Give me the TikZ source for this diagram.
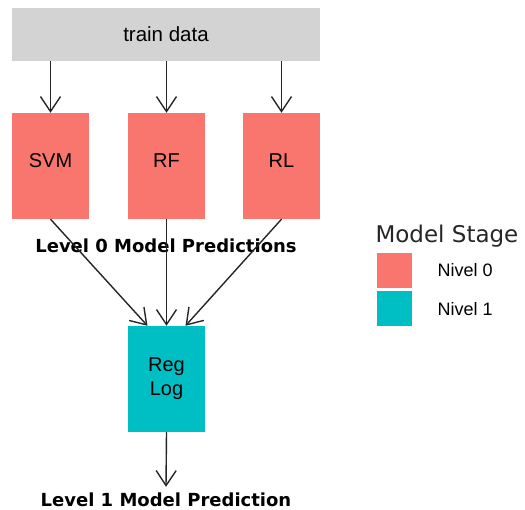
\documentclass[tikz,border=0pt]{standalone}
\usepackage{fontspec}
\setmainfont{Liberation Sans}
\newfontfamily\dejavu{DejaVu Sans}
\usetikzlibrary{positioning,arrows.meta}
\definecolor{nivelcero}{HTML}{F8766D}
\definecolor{niveluno}{HTML}{00BFC4}
\definecolor{datos}{HTML}{D3D3D3}

\begin{document}
\begin{tikzpicture}[x=1pt,y=-1pt]
\tikzstyle{modelo}=[minimum width=77pt,minimum height=106pt,inner sep=0pt,font=\fontsize{20}{24}\selectfont]
\tikzstyle{nivel}=[font=\dejavu\bfseries\fontsize{18}{20}\selectfont,inner sep=1pt]
\tikzstyle{flecha}=[line width=1.4pt,draw=black!85,-{Straight Barb[length=15pt,width=20pt]}]
\tikzstyle{muestra}=[minimum size=35pt,inner sep=0pt]

\useasboundingbox (0,0) rectangle (525,510);

   \path (166,34.5) node[fill=datos,minimum width=308pt,minimum height=53pt,font=\fontsize{20.5}{24}\selectfont] (TD) {train data}

    (50.5,166)  node[modelo,fill=nivelcero,text depth=10pt] (SVM) {SVM}
    (166.5,166) node[modelo,fill=nivelcero,text depth=10pt] (RF) {RF}
    (281.5,166) node[modelo,fill=nivelcero,text depth=10pt] (RL) {RL}

    (166,246) node[nivel] (L0) {Level 0 Model Predictions}

    (166.5,379) node[modelo,fill=niveluno,align=center] (RegLog) {Reg\\Log}

    (166,500) node[nivel] (L1) {Level 1 Model Prediction};

    % leyenda
    \node[anchor=west,font=\dejavu\fontsize{23}{26}\selectfont,text=black!85] (MS) at (372,236) {Model Stage};
    \node[muestra,fill=nivelcero] (M0) at (394.5,270.5) {};
    \node[muestra,fill=niveluno] (M1) at (394.5,309) {};
    \node[right = 22pt of M0,font=\fontsize{18}{20}\selectfont]{Nivel 0};
    \node[right = 22pt of M1,font=\fontsize{18}{20}\selectfont]{Nivel 1};

    \draw[flecha] (TD.south -| SVM) -- (SVM.north);
    \draw[flecha] (TD.south -| RF) -- (RF.north);
    \draw[flecha] (TD.south -| RL) -- (RL.north);

    \draw[flecha] (SVM.south) -- ([xshift=-19pt]RegLog.north);
    \draw[flecha] (RF.south) -- (RegLog.north);
    \draw[flecha] (RL.south) -- ([xshift=19pt]RegLog.north);

    \draw[flecha] (RegLog.south) -- ([yshift=5pt]L1.north);
\end{tikzpicture}
\end{document}
